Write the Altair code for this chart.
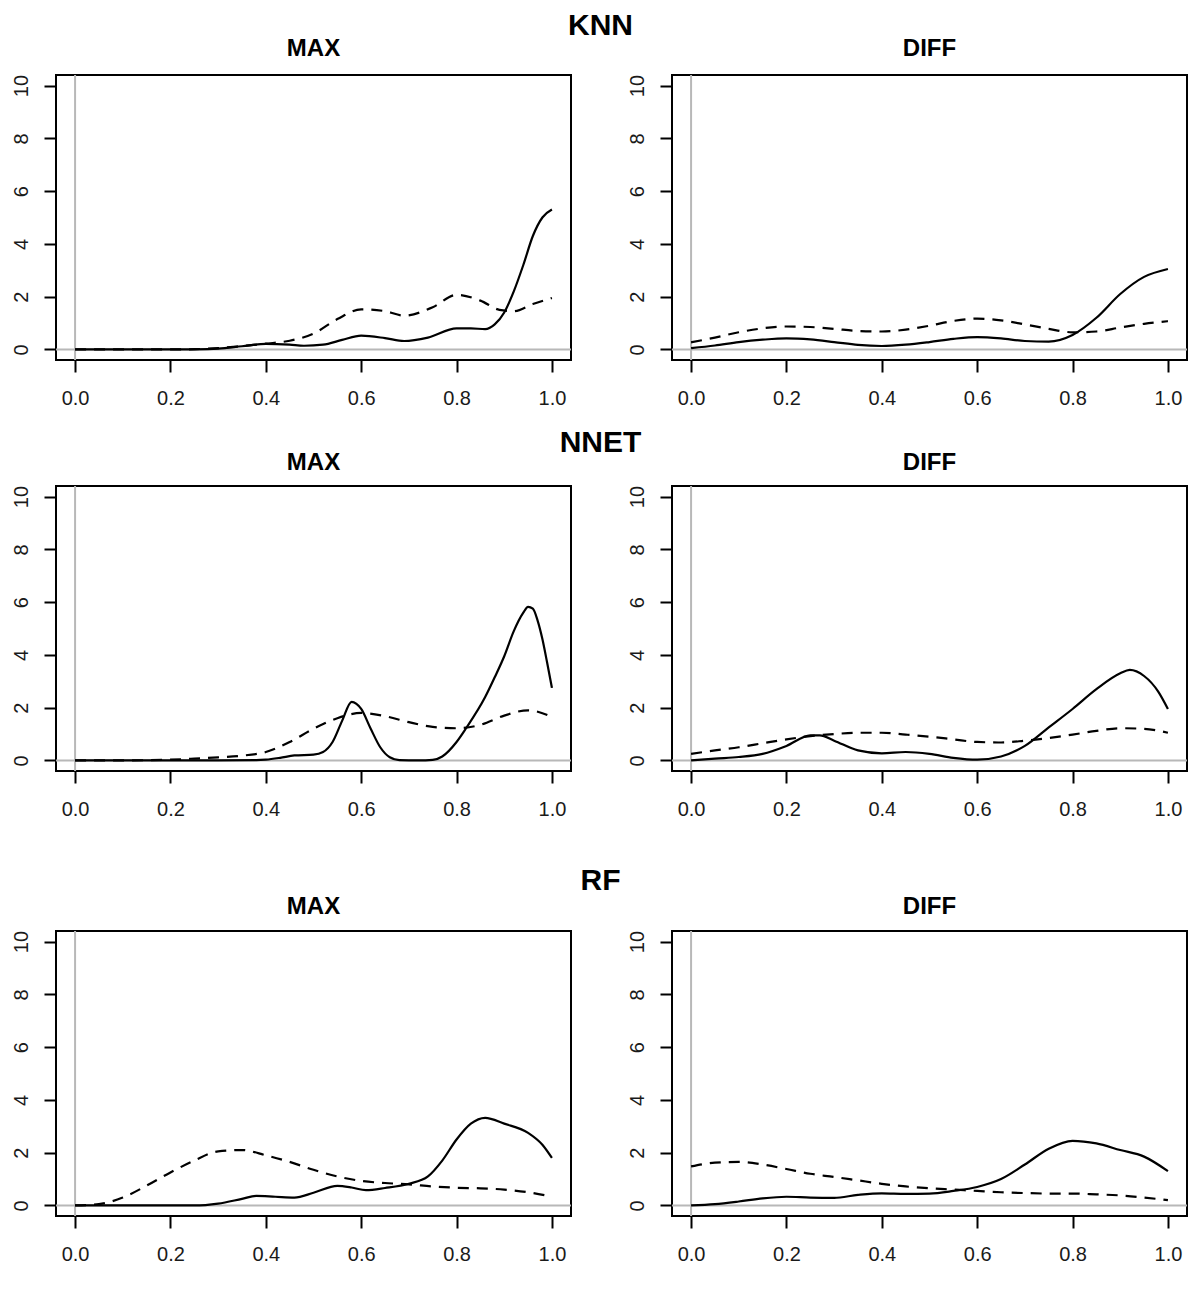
import altair as alt
import pandas as pd

# ---------------- data ----------------
ROW_TITLES = ["KNN", "NNET", "RF"]
COL_TITLES = ["MAX", "DIFF"]
X_TICKS = [0.0, 0.2, 0.4, 0.6, 0.8, 1.0]
Y_TICKS = [0, 2, 4, 6, 8, 10]
GRID = [0.0, 0.05, 0.1, 0.15, 0.2, 0.25, 0.3, 0.35, 0.4, 0.45, 0.5,
        0.55, 0.6, 0.65, 0.7, 0.75, 0.8, 0.85, 0.9, 0.95, 1.0]

# KNN / MAX
knn_max_solid_x = [0, 0.1, 0.2, 0.25, 0.3, 0.35, 0.4, 0.45, 0.48, 0.52, 0.56, 0.6, 0.65, 0.69,
                   0.74, 0.8, 0.83, 0.86, 0.88, 0.9, 0.92, 0.94, 0.96, 0.98, 1.0]
knn_max_solid_y = [0, 0, 0, 0.005, 0.03, 0.12, 0.21, 0.18, 0.14, 0.18, 0.36, 0.52, 0.43, 0.32,
                   0.45, 0.8, 0.8, 0.77, 0.95, 1.4, 2.2, 3.2, 4.3, 5.0, 5.3]
knn_max_dash_x = [0, 0.2, 0.25, 0.3, 0.35, 0.4, 0.45, 0.5, 0.55, 0.6, 0.65, 0.69, 0.75, 0.8,
                  0.85, 0.89, 0.92, 0.96, 1.0]
knn_max_dash_y = [0, 0, 0.01, 0.05, 0.13, 0.22, 0.33, 0.6, 1.15, 1.52, 1.45, 1.28, 1.6, 2.07,
                  1.85, 1.5, 1.45, 1.72, 1.95]

# KNN / DIFF
knn_diff_solid_y = [0.05, 0.15, 0.28, 0.37, 0.42, 0.38, 0.28, 0.17, 0.13, 0.18, 0.28,
                    0.4, 0.47, 0.42, 0.32, 0.3, 0.55, 1.2, 2.1, 2.75, 3.05]
knn_diff_dash_y = [0.27, 0.45, 0.65, 0.8, 0.87, 0.85, 0.78, 0.7, 0.68, 0.75, 0.9,
                   1.08, 1.17, 1.1, 0.95, 0.78, 0.65, 0.68, 0.83, 0.97, 1.07]

# NNET / MAX
nnet_max_solid_x = [0, 0.3, 0.38, 0.4, 0.43, 0.46, 0.5, 0.52, 0.54, 0.56, 0.58, 0.6, 0.62, 0.64,
                    0.66, 0.68, 0.72, 0.75, 0.77, 0.8, 0.82, 0.86, 0.88, 0.9, 0.92, 0.94, 0.95,
                    0.96, 0.97, 0.98, 0.99, 1.0]
nnet_max_solid_y = [0, 0, 0.01, 0.03, 0.1, 0.19, 0.22, 0.32, 0.7, 1.5, 2.22, 1.95, 1.2, 0.5,
                    0.12, 0.01, 0.0, 0.02, 0.15, 0.7, 1.22, 2.4, 3.15, 3.95, 4.9, 5.6, 5.82,
                    5.75, 5.3, 4.6, 3.7, 2.75]
nnet_max_dash_y = [0, 0, 0, 0.01, 0.03, 0.07, 0.12, 0.18, 0.32, 0.7, 1.2,
                   1.6, 1.8, 1.68, 1.45, 1.27, 1.22, 1.35, 1.7, 1.9, 1.65]

# NNET / DIFF
nnet_diff_solid_x = [0, 0.05, 0.1, 0.15, 0.2, 0.25, 0.27, 0.3, 0.35, 0.4, 0.45, 0.5, 0.55, 0.6,
                     0.65, 0.7, 0.75, 0.8, 0.85, 0.9, 0.92, 0.95, 0.98, 1.0]
nnet_diff_solid_y = [0, 0.07, 0.13, 0.25, 0.55, 0.95, 0.95, 0.75, 0.38, 0.27, 0.32, 0.25, 0.1,
                     0.03, 0.15, 0.55, 1.25, 1.95, 2.7, 3.3, 3.43, 3.2, 2.6, 1.95]
nnet_diff_dash_y = [0.25, 0.38, 0.5, 0.65, 0.8, 0.92, 1.0, 1.05, 1.05, 0.98, 0.9,
                    0.8, 0.7, 0.68, 0.75, 0.85, 0.98, 1.12, 1.22, 1.2, 1.05]

# RF / MAX
rf_max_solid_x = [0, 0.25, 0.3, 0.35, 0.38, 0.42, 0.46, 0.5, 0.55, 0.58, 0.61, 0.65, 0.7, 0.74,
                  0.77, 0.8, 0.83, 0.86, 0.9, 0.95, 0.98, 1.0]
rf_max_solid_y = [0, 0, 0.07, 0.25, 0.36, 0.33, 0.3, 0.48, 0.74, 0.68, 0.58, 0.66, 0.82, 1.1,
                  1.7, 2.5, 3.1, 3.32, 3.1, 2.75, 2.3, 1.8]
rf_max_dash_y = [0, 0.05, 0.3, 0.75, 1.25, 1.7, 2.05, 2.1, 1.9, 1.65, 1.35,
                 1.1, 0.93, 0.85, 0.8, 0.72, 0.67, 0.65, 0.6, 0.5, 0.33]

# RF / DIFF
rf_diff_solid_y = [0, 0.05, 0.15, 0.27, 0.33, 0.3, 0.29, 0.4, 0.46, 0.44, 0.45,
                   0.55, 0.7, 1.0, 1.55, 2.15, 2.45, 2.35, 2.1, 1.85, 1.3]
rf_diff_dash_y = [1.48, 1.62, 1.65, 1.55, 1.38, 1.2, 1.08, 0.95, 0.82, 0.72, 0.65,
                  0.6, 0.55, 0.5, 0.47, 0.45, 0.45, 0.42, 0.38, 0.3, 0.2]

# ---------------- chart ----------------
FONT = "Liberation Sans"
PW, PH = 515, 285
x_scale = alt.Scale(domain=[-0.04, 1.04], nice=False, zero=False)
y_scale = alt.Scale(domain=[-0.4, 10.4], nice=False, zero=False)
zero_df = pd.DataFrame({"z": [0]})


def x_axis(extent):
    return alt.Axis(values=X_TICKS, format=".1f", title=None, domain=False, grid=False,
                    tickSize=12, tickWidth=2, tickColor="black", labelPadding=16,
                    labelFontSize=20, labelFont=FONT, labelColor="#1a1a1a",
                    labelFlush=False, labelOverlap=False, minExtent=extent)


y_axis = alt.Axis(values=Y_TICKS, format="d", title=None, domain=False, grid=False,
                  tickSize=12, tickWidth=2, tickColor="black", labelPadding=17,
                  labelFontSize=20, labelFont=FONT, labelColor="#1a1a1a",
                  labelAngle=270, labelAlign="center", labelBaseline="alphabetic",
                  labelFlush=False, labelOverlap=False, minExtent=47, maxExtent=47)


def panel(title, sx, sy, dx, dy, title_offset, x_extent):
    xa = x_axis(x_extent)
    sol = pd.DataFrame({"x": sx, "y": sy})
    das = pd.DataFrame({"x": dx, "y": dy})
    vline = alt.Chart(zero_df).mark_rule(color="#b8b8b8", strokeWidth=2).encode(
        x=alt.X("z:Q", scale=x_scale, axis=xa))
    hline = alt.Chart(zero_df).mark_rule(color="#b8b8b8", strokeWidth=2).encode(
        y=alt.Y("z:Q", scale=y_scale, axis=y_axis))
    solid = alt.Chart(sol).mark_line(color="black", strokeWidth=2.2, interpolate="monotone").encode(
        x=alt.X("x:Q", scale=x_scale, axis=xa), y=alt.Y("y:Q", scale=y_scale, axis=y_axis))
    dashed = alt.Chart(das).mark_line(color="black", strokeWidth=2.2, strokeDash=[11, 8],
                                      interpolate="monotone").encode(
        x=alt.X("x:Q", scale=x_scale, axis=xa), y=alt.Y("y:Q", scale=y_scale, axis=y_axis))
    return alt.layer(vline, hline, solid, dashed).properties(
        width=PW, height=PH,
        title=alt.TitleParams(title, fontSize=24, font=FONT, fontWeight="bold",
                              color="black", offset=title_offset, baseline="alphabetic"))


def row(name, left, right, offset):
    return alt.hconcat(left, right, spacing=51, title=alt.TitleParams(
        name, fontSize=30, font=FONT, fontWeight="bold", color="black",
        anchor="middle", offset=offset, baseline="alphabetic", dx=2))


row1 = row(ROW_TITLES[0],
           panel(COL_TITLES[0], knn_max_solid_x, knn_max_solid_y, knn_max_dash_x, knn_max_dash_y, -6, 67),
           panel(COL_TITLES[1], GRID, knn_diff_solid_y, GRID, knn_diff_dash_y, -6, 67), -29)
row2 = row(ROW_TITLES[1],
           panel(COL_TITLES[0], nnet_max_solid_x, nnet_max_solid_y, GRID, nnet_max_dash_y, -9, 94),
           panel(COL_TITLES[1], nnet_diff_solid_x, nnet_diff_solid_y, GRID, nnet_diff_dash_y, -9, 94), -32)
row3 = row(ROW_TITLES[2],
           panel(COL_TITLES[0], rf_max_solid_x, rf_max_solid_y, GRID, rf_max_dash_y, -8, 50),
           panel(COL_TITLES[1], GRID, rf_diff_solid_y, GRID, rf_diff_dash_y, -8, 50), -26)

chart = alt.vconcat(row1, row2, row3, spacing=0).properties(
    padding={"top": 3, "left": 0, "right": 0, "bottom": 0}).configure_view(
    stroke="black", strokeWidth=2)

chart.save("out.html", embed_options={"renderer": "svg", "actions": False})
